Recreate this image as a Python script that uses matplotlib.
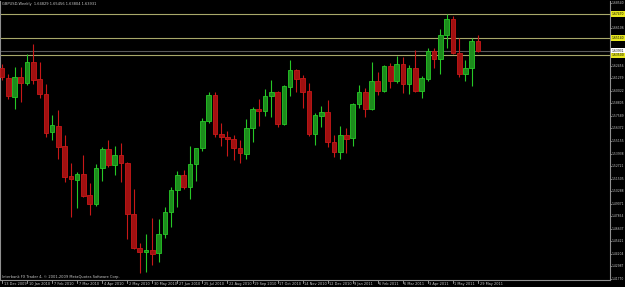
import matplotlib.pyplot as plt
from matplotlib.transforms import blended_transform_factory

# GBPUSD weekly candles, 13 Dec 2009 .. 29 May 2011
opens = [1.6221, 1.6124, 1.5945, 1.6136, 1.6081, 1.6282, 1.6114, 1.5971, 1.5600, 1.5664,
         1.5467, 1.5179, 1.5137, 1.5195, 1.4992, 1.4907, 1.5253, 1.5438, 1.5283, 1.5383,
         1.5299, 1.4804, 1.4475, 1.4442, 1.4461, 1.4426, 1.4613, 1.4830, 1.5037, 1.5186,
         1.5066, 1.5289, 1.5445, 1.5709, 1.5959, 1.5583, 1.5555, 1.5535, 1.5450, 1.5392,
         1.5638, 1.5826, 1.5809, 1.5952, 1.5991, 1.5677, 1.6042, 1.6204, 1.6124, 1.6001,
         1.5583, 1.5761, 1.5794, 1.5509, 1.5406, 1.5574, 1.5541, 1.5877, 1.5988, 1.5823,
         1.6097, 1.5997, 1.6243, 1.6097, 1.6259, 1.6065, 1.6221, 1.6003, 1.6120, 1.6391,
         1.6311, 1.6543, 1.6699, 1.6366, 1.6165, 1.6221, 1.64829]
highs = [1.6262, 1.6165, 1.6236, 1.6236, 1.6359, 1.6456, 1.6279, 1.6068, 1.5765, 1.5816,
         1.5571, 1.5302, 1.5218, 1.5380, 1.5111, 1.5292, 1.5460, 1.5525, 1.5467, 1.5493,
         1.5310, 1.5050, 1.4523, 1.4613, 1.4771, 1.4759, 1.4878, 1.5066, 1.5227, 1.5234,
         1.5467, 1.5450, 1.5736, 1.5993, 1.5993, 1.5693, 1.5612, 1.5574, 1.5525, 1.5726,
         1.5848, 1.5920, 1.6017, 1.6107, 1.6000, 1.6059, 1.6301, 1.6210, 1.6156, 1.6081,
         1.5790, 1.5855, 1.5913, 1.5574, 1.5661, 1.5644, 1.5887, 1.6059, 1.6027, 1.6279,
         1.6188, 1.6253, 1.6275, 1.6340, 1.6333, 1.6253, 1.6398, 1.6146, 1.6420, 1.6420,
         1.6602, 1.6747, 1.6731, 1.6512, 1.6301, 1.6512, 1.65456]
lows = [1.6107, 1.5923, 1.5826, 1.5894, 1.6056, 1.6068, 1.5935, 1.5551, 1.5525, 1.5338,
        1.5121, 1.4781, 1.4868, 1.4975, 1.4797, 1.4888, 1.5130, 1.5260, 1.5186, 1.5121,
        1.4565, 1.4468, 1.4232, 1.4247, 1.4313, 1.4345, 1.4572, 1.4684, 1.4872, 1.5047,
        1.4950, 1.5130, 1.5421, 1.5687, 1.5557, 1.5467, 1.5370, 1.5331, 1.5299, 1.5341,
        1.5503, 1.5664, 1.5758, 1.5745, 1.5648, 1.5671, 1.5955, 1.5994, 1.5833, 1.5564,
        1.5477, 1.5654, 1.5454, 1.5357, 1.5341, 1.5402, 1.5470, 1.5833, 1.5745, 1.5816,
        1.5961, 1.5988, 1.6027, 1.6075, 1.5978, 1.5971, 1.5995, 1.5935, 1.6097, 1.6221,
        1.6162, 1.6420, 1.6356, 1.6139, 1.6097, 1.6052, 1.63804]
closes = [1.6133, 1.5955, 1.6136, 1.6081, 1.6282, 1.6110, 1.5968, 1.5596, 1.5668, 1.5460,
          1.5169, 1.5144, 1.5195, 1.4982, 1.4907, 1.5253, 1.5438, 1.5283, 1.5383, 1.5299,
          1.4804, 1.4475, 1.4442, 1.4461, 1.4419, 1.4613, 1.4830, 1.5037, 1.5186, 1.5066,
          1.5289, 1.5445, 1.5709, 1.5959, 1.5583, 1.5551, 1.5535, 1.5445, 1.5396, 1.5638,
          1.5826, 1.5809, 1.5952, 1.5991, 1.5677, 1.6049, 1.6204, 1.6120, 1.5994, 1.5583,
          1.5765, 1.5794, 1.5509, 1.5406, 1.5574, 1.5538, 1.5877, 1.5988, 1.5823, 1.6097,
          1.5997, 1.6243, 1.6097, 1.6259, 1.6065, 1.6221, 1.6003, 1.6124, 1.6391, 1.6311,
          1.6543, 1.6699, 1.6366, 1.6165, 1.6221, 1.6485, 1.63931]

date_labels = ["13 Dec 2009", "10 Jan 2010", "7 Feb 2010", "7 Mar 2010", "4 Apr 2010",
               "2 May 2010", "30 May 2010", "27 Jun 2010", "25 Jul 2010", "22 Aug 2010",
               "19 Sep 2010", "17 Oct 2010", "14 Nov 2010", "12 Dec 2010", "9 Jan 2011",
               "6 Feb 2011", "6 Mar 2011", "3 Apr 2011", "1 May 2011", "29 May 2011"]
weeks_per_label = 4

price_ticks = [1.68540, 1.66106, 1.62456, 1.61239, 1.60022, 1.58805, 1.57589, 1.56372,
               1.55155, 1.53938, 1.52721, 1.51505, 1.50288, 1.49071, 1.47854, 1.46637,
               1.45421, 1.44204, 1.42987, 1.41770]
hlines = [1.67470, 1.65140, 1.63500]
bid = 1.63931

title = "GBPUSD,Weekly  1.64829 1.65456 1.63804 1.63931"
copyright_txt = "Interbank FX Trader 4, \u00a9 2001-2009 MetaQuotes Software Corp."

BULL_FILL, BULL_EDGE = "#1c8c1c", "#26c826"
BEAR_FILL, BEAR_EDGE = "#a01010", "#c81818"
TXT = "#c8c8c8"


def main():
    fig = plt.figure(figsize=(6.25, 2.87), dpi=100, facecolor="black")
    ax = fig.add_axes([0, 0.02613, 0.976, 0.97039], facecolor="black")

    # horizontal lines
    for h in hlines:
        ax.axhline(h, color="#a8a86a", lw=0.8, zorder=1)
    ax.axhline(bid, color="#5a5a5a", lw=0.8, zorder=1)

    for i, (o, h, l, c) in enumerate(zip(opens, highs, lows, closes)):
        up = c >= o
        ec = BULL_EDGE if up else BEAR_EDGE
        fc = BULL_FILL if up else BEAR_FILL
        ax.vlines(i, l, h, color=ec, lw=0.8, zorder=2)
        body = max(abs(c - o), 0.0004)
        ax.bar(i, body, bottom=min(o, c), width=0.74, color=fc, edgecolor=ec,
               linewidth=0.6, zorder=3)

    ax.set_xlim(-0.3193, 97.08)
    ax.set_ylim(1.41720, 1.68734)

    ax.spines["top"].set_visible(False)
    for s in ["left", "right", "bottom"]:
        ax.spines[s].set_color("#909090")
        ax.spines[s].set_linewidth(0.8)
    ax.set_xticks([])
    ax.set_yticks([])

    # right price scale
    ytr = blended_transform_factory(ax.transAxes, ax.transData)
    for p in price_ticks:
        ax.text(1.0025, p, f"{p:.5f}", transform=ytr, ha="left", va="center",
                fontsize=2.15, color=TXT, clip_on=False)
        ax.plot([1.0, 1.002], [p, p], transform=ytr, color=TXT, lw=0.5, clip_on=False)
    for h in hlines:
        ax.text(1.0025, h, f"{h:.5f}", transform=ytr, ha="left", va="center",
                fontsize=2.15, color="black", clip_on=False,
                bbox=dict(boxstyle="square,pad=0.2", fc="#e8e820", ec="none"))
    ax.text(1.0025, bid, f"{bid:.5f}", transform=ytr, ha="left", va="center",
            fontsize=2.15, color="black", clip_on=False,
            bbox=dict(boxstyle="square,pad=0.2", fc="white", ec="none"))

    # bottom date scale
    xtr = blended_transform_factory(ax.transData, ax.transAxes)
    for j, lab in enumerate(date_labels):
        x = j * weeks_per_label
        ax.plot([x, x], [0, -0.014], transform=xtr, color=TXT, lw=0.5, clip_on=False)
        ax.text(x + 0.25, -0.0145, lab, transform=xtr, ha="left", va="center",
                fontsize=2.5, color=TXT, clip_on=False)

    ax.text(0.004, 0.991, title, transform=ax.transAxes, ha="left", va="center",
            fontsize=2.6, color=TXT)
    ax.text(0.003, 0.0085, copyright_txt, transform=ax.transAxes, ha="left",
            va="center", fontsize=2.6, color=TXT)

    fig.savefig("out.png", dpi=100, facecolor="black")
    plt.close(fig)


if __name__ == "__main__":
    main()
